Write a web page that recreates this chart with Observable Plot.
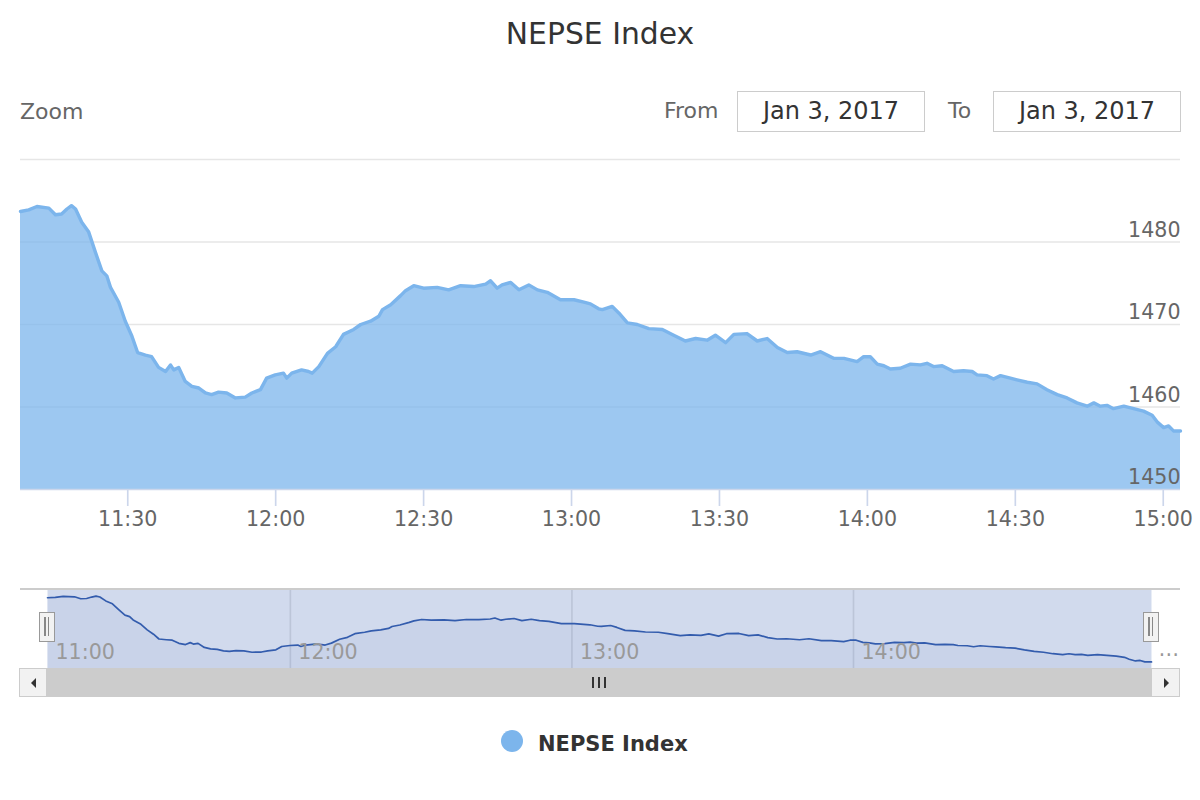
<!DOCTYPE html>
<html>
<head>
<meta charset="utf-8">
<script src="https://cdn.jsdelivr.net/npm/d3@7"></script>
<script src="https://cdn.jsdelivr.net/npm/@observablehq/plot@0.6"></script>
<style>
  html, body { margin: 0; padding: 0; background: #fff; }
  #wrap { position: relative; width: 1200px; height: 800px; overflow: hidden; font-family: "DejaVu Sans", sans-serif; }
  .abs { position: absolute; }
  #title { left: 0; width: 1200px; top: 15px; height: 38px; line-height: 38px; text-align: center; font-size: 29.8px; color: #333; }
  .lbl { font-size: 22px; color: #666; height: 30px; line-height: 30px; }
  .box { box-sizing: border-box; border: 1.66px solid #cccccc; width: 188px; height: 41px; line-height: 38px; text-align: center; font-size: 24px; color: #333; background: #fff; }
  .handle { box-sizing: border-box; width: 16.5px; height: 30px; background: #f2f2f2; border: 1.66px solid #999; }
  .grip { position: absolute; top: 4px; width: 1.66px; height: 19px; background: #888; }
  .sbtn { box-sizing: border-box; height: 29px; background: #f2f2f2; border: 1.3px solid #cccccc; }
  .bar3 { width: 2px; height: 11px; background: #333; }
</style>
</head>
<body>
<div id="wrap">
  <div id="title" class="abs">NEPSE Index</div>
  <div class="abs lbl" style="left:20px; top:97px;">Zoom</div>
  <div class="abs lbl" style="left:664px; top:96px;">From</div>
  <div class="abs box" style="left:737px; top:91px;">Jan 3, 2017</div>
  <div class="abs lbl" style="left:948px; top:96px;">To</div>
  <div class="abs box" style="left:993px; top:91px;">Jan 3, 2017</div>
  <div id="main" class="abs" style="left:0; top:150px;"></div>
  <div id="nav" class="abs" style="left:0; top:580px;"></div>
  <!-- navigator outline top -->
  <div class="abs" style="left:20px; top:588px; width:1160px; height:1.5px; background:#cccccc;"></div>
  <!-- handles -->
  <div class="abs handle" style="left:38.7px; top:612px;"><div class="grip" style="left:4.5px"></div><div class="grip" style="left:8px"></div></div>
  <div class="abs handle" style="left:1142.7px; top:612px;"><div class="grip" style="left:4.5px"></div><div class="grip" style="left:8px"></div></div>
  <!-- scrollbar -->
  <div class="abs sbtn" style="left:19px; top:668px; width:28px;"></div>
  <div class="abs" style="left:47px; top:668px; width:1104px; height:29px; background:#cccccc;"></div>
  <div class="abs sbtn" style="left:1151px; top:668px; width:29px;"></div>
  <div class="abs" style="left:30.5px; top:677.5px; width:0; height:0; border-top:5.5px solid transparent; border-bottom:5.5px solid transparent; border-right:5px solid #333;"></div>
  <div class="abs" style="left:1164px; top:677.5px; width:0; height:0; border-top:5.5px solid transparent; border-bottom:5.5px solid transparent; border-left:5px solid #333;"></div>
  <div class="abs bar3" style="left:592px; top:677px;"></div>
  <div class="abs bar3" style="left:598px; top:677px;"></div>
  <div class="abs bar3" style="left:604px; top:677px;"></div>
  <!-- legend -->
  <div class="abs" style="left:500.7px; top:729.7px; width:22.6px; height:22.6px; border-radius:50%; background:#7cb5ec;"></div>
  <div class="abs" style="left:538px; top:728.5px; height:30px; line-height:30px; font-size:21px; font-weight:bold; color:#333;">NEPSE Index</div>
</div>
<script>
// ---- data (Jan 3, 2017, NEPSE Index intraday) ----
const times = ["11:08:15","11:09:55","11:11:35","11:14:00","11:15:20","11:16:35","11:17:40","11:18:35","11:19:25","11:20:40","11:22:05","11:23:25","11:24:45","11:25:45","11:26:30","11:28:10","11:29:30","11:30:50","11:32:00","11:33:35","11:34:50","11:36:15","11:37:40","11:38:40","11:39:20","11:40:20","11:41:40","11:43:00","11:44:25","11:45:45","11:47:00","11:48:25","11:50:05","11:51:50","11:53:50","11:55:10","11:56:55","11:58:10","11:59:55","12:01:35","12:02:15","12:03:15","12:05:15","12:06:40",
"12:07:25","12:08:45","12:10:30","12:12:10","12:13:45","12:15:50","12:17:15","12:19:15","12:20:55","12:21:40","12:23:20","12:25:20","12:26:20","12:28:00","12:30:00","12:32:45","12:35:05","12:37:30","12:40:10","12:42:35","12:43:35","12:44:55","12:45:55","12:47:40","12:49:20","12:51:20","12:53:05","12:55:05","12:57:45","13:00:30","13:02:30","13:03:50","13:05:30",
"13:06:15","13:08:15","13:09:35","13:11:20","13:13:20","13:15:40","13:18:25","13:20:25","13:23:05","13:25:10","13:27:30","13:29:10","13:31:15","13:32:55","13:35:35","13:37:40","13:39:40","13:41:45","13:43:45","13:45:45","13:48:30","13:50:30","13:53:10","13:55:15","13:57:55","13:59:15","14:00:35","14:02:00","14:03:20","14:04:40",
"14:06:40","14:08:45","14:10:45","14:12:05","14:13:25","14:15:10","14:17:30","14:19:30","14:21:15","14:22:15","14:24:15","14:25:35","14:27:00","14:29:00","14:30:20","14:32:25","14:34:25","14:36:25","14:38:30","14:40:30","14:42:30","14:44:35","14:45:55","14:47:15","14:48:35","14:49:55","14:52:00","14:54:00","14:56:00","14:57:45","14:58:45","15:00:05","15:01:05","15:02:05","15:03:30"];

const values = [1483.7,1483.9,1484.3,1484.1,1483.3,1483.4,1484.0,1484.4,1484.0,1482.4,1481.2,1478.8,1476.5,1475.9,1474.5,1472.7,1470.4,1468.6,1466.6,1466.3,1466.1,1464.8,1464.3,1465.1,1464.5,1464.8,1463.1,1462.5,1462.3,1461.7,1461.5,1461.8,1461.7,1461.1,1461.2,1461.7,1462.1,1463.5,1463.9,1464.1,1463.5,1464.1,1464.5,1464.3,
1464.1,1464.9,1466.5,1467.3,1468.8,1469.4,1470.0,1470.4,1471.0,1471.8,1472.4,1473.5,1474.1,1474.7,1474.4,1474.5,1474.2,1474.7,1474.6,1474.9,1475.3,1474.4,1474.8,1475.1,1474.2,1474.8,1474.2,1473.9,1473.0,1473.0,1472.7,1472.5,1471.9,
1471.8,1472.2,1471.4,1470.2,1470.0,1469.5,1469.4,1468.8,1468.0,1468.3,1468.1,1468.7,1467.8,1468.8,1468.9,1468.0,1468.3,1467.2,1466.6,1466.7,1466.3,1466.7,1465.9,1465.9,1465.5,1466.1,1466.1,1465.2,1465.0,1464.6,
1464.7,1465.2,1465.1,1465.3,1464.9,1465.0,1464.3,1464.4,1464.3,1463.9,1463.8,1463.4,1463.8,1463.5,1463.3,1463.0,1462.8,1462.1,1461.5,1461.1,1460.5,1460.1,1460.5,1460.1,1460.2,1459.8,1460.1,1459.8,1459.5,1459.0,1458.2,1457.5,1457.7,1457.1,1457.1];

const yDomain = [1450, 1490];
const yGridTicks = [1460, 1470, 1480, 1490];
const yLabelTicks = [1450, 1460, 1470, 1480];
const xTickLabels = ["11:30","12:00","12:30","13:00","13:30","14:00","14:30","15:00"];
const navTickLabels = ["11:00","12:00","13:00","14:00","15:00"];
const navGridLabels = ["12:00","13:00","14:00"];
// -----------------------------------------------------------------------

if (times.length !== values.length) throw new Error("length mismatch " + times.length + " vs " + values.length);

const parse = s => { const [h, m, sec] = s.split(":").map(Number); return new Date(Date.UTC(2017, 0, 3, h, m, sec || 0)); };
const data = times.map((t, i) => ({date: parse(t), value: values[i]}));
const xDomain = d3.extent(data, d => d.date);
const xTicks = xTickLabels.map(parse);
const fmt = d3.utcFormat("%H:%M");

const main = Plot.plot({
  width: 1200, height: 390,
  marginTop: 9, marginBottom: 51, marginLeft: 20, marginRight: 20,
  x: {type: "utc", domain: xDomain},
  y: {domain: yDomain, axis: null},
  style: {fontFamily: "DejaVu Sans", fontSize: "20.6px", background: "transparent", overflow: "visible"},
  marks: [
    Plot.ruleY(yGridTicks, {stroke: "#e6e6e6", strokeWidth: 1.66}),
    Plot.areaY(data, {x: "date", y1: yDomain[0], y2: "value", fill: "#7cb5ec", fillOpacity: 0.75}),
    Plot.lineY(data, {x: "date", y: "value", stroke: "#7cb5ec", strokeWidth: 3.4, strokeLinejoin: "round", strokeLinecap: "round"}),
    Plot.ruleY([yDomain[0]], {stroke: "#ccd6eb", strokeWidth: 1.66}),
    Plot.axisX({ticks: xTicks, tickFormat: fmt, tickSize: 17, tickPadding: 5, stroke: "#ccd6eb", strokeWidth: 1.66, fill: "#666", fontSize: 20.6, label: null}),
    Plot.text(yLabelTicks, {y: d => d, text: d => String(d), frameAnchor: "right", textAnchor: "end", dy: -12, fill: "#666", fontSize: 20.6})
  ]
});
document.getElementById("main").appendChild(main);

const vExt = d3.extent(values);
const pad = 0.1 * (vExt[1] - vExt[0]);
const navDomainY = [vExt[0] - pad, vExt[1] + pad];
const navEnd = xDomain[1];
const overflows = d => (navEnd - parse(d)) < 30 * 60 * 1000;

const nav = Plot.plot({
  width: 1200, height: 120,
  marginTop: 9, marginBottom: 32, marginLeft: 47, marginRight: 49,
  x: {type: "utc", domain: xDomain, clamp: true, axis: null},
  y: {domain: navDomainY, axis: null},
  style: {fontFamily: "DejaVu Sans", fontSize: "20.6px", background: "transparent", overflow: "visible"},
  marks: [
    Plot.frame({fill: "rgb(102,133,194)", fillOpacity: 0.3, stroke: null}),
    Plot.ruleX(navGridLabels.map(parse), {stroke: "#bcc5d8", strokeWidth: 1.66}),
    Plot.areaY(data, {x: "date", y1: navDomainY[0], y2: "value", fill: "#335cad", fillOpacity: 0.05}),
    Plot.lineY(data, {x: "date", y: "value", stroke: "#335cad", strokeWidth: 1.7}),
    Plot.text(navTickLabels.filter(d => !overflows(d)), {
      x: d => parse(d), text: d => d,
      frameAnchor: "bottom", textAnchor: "start", dx: 8, dy: -10, fill: "#999", fontSize: 20.6
    }),
    Plot.text(navTickLabels.filter(overflows), {
      text: () => "…", frameAnchor: "bottom-right", textAnchor: "start", dx: 7, dy: -13, fill: "#999", fontSize: 20.6
    })
  ]
});
document.getElementById("nav").appendChild(nav);
</script>
</body>
</html>
